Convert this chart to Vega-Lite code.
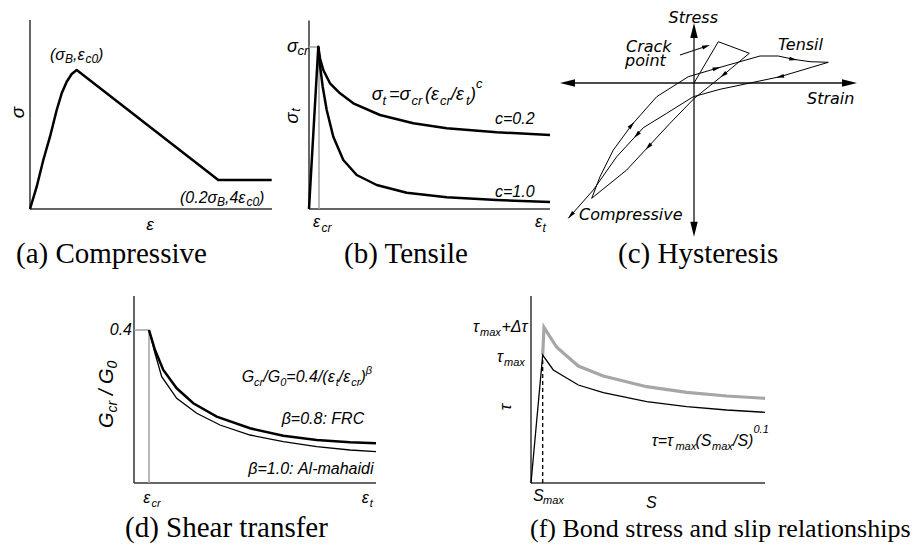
{
"$schema": "https://vega.github.io/schema/vega-lite/v6.json",
"padding": 0,
"background": "white",
"config": {"view": {"stroke": null}},
"spacing": 0,
"vconcat": [
{
"spacing": 0,
"bounds": "flush",
"hconcat": [
{
"width": 280, "height": 270,
"encoding": {
 "x": {"field": "x", "type": "quantitative", "scale": {"domain": [-30, 250], "nice": false, "zero": false}, "axis": null},
 "y": {"field": "y", "type": "quantitative", "scale": {"domain": [-61, 209], "nice": false, "zero": false}, "axis": null}
},
"layer": [
 {"data": {"values": [{"x": 0, "y": 0, "x2": 0, "y2": 189}, {"x": 0, "y": 0, "x2": 242, "y2": 0}]},
  "mark": {"type": "rule", "color": "#333333", "strokeWidth": 1.5},
  "encoding": {"x2": {"field": "x2"}, "y2": {"field": "y2"}}},
 {"data": {"values": [{"x": 0, "y": 0}, {"x": 6.7, "y": 22.3}, {"x": 13.3, "y": 49}, {"x": 20, "y": 72.3}, {"x": 26.7, "y": 99}, {"x": 31.7, "y": 115.7}, {"x": 36.7, "y": 127.3}, {"x": 41.7, "y": 135}, {"x": 46.7, "y": 139}, {"x": 188.3, "y": 29}, {"x": 241.7, "y": 29}]},
  "mark": {"type": "line", "color": "#000000", "strokeWidth": 2.5, "strokeJoin": "round"}},
 {"data": {"values": [{"x": 20, "y": 149, "t": "(σ"}, {"x": 43, "y": 149, "t": ",ε"}, {"x": 68, "y": 149, "t": ")"}, {"x": 150, "y": 6, "t": "(0.2σ"}, {"x": 195, "y": 6, "t": ",4ε"}, {"x": 229, "y": 6, "t": ")"}]},
  "mark": {"type": "text", "align": "left", "baseline": "alphabetic", "font": "Liberation Sans", "fontStyle": "italic", "fontSize": 16, "color": "#000000"},
  "encoding": {"text": {"field": "t"}}},
 {"data": {"values": [{"x": 35, "y": 146, "t": "B"}, {"x": 55.5, "y": 146, "t": "c0"}, {"x": 187, "y": 3, "t": "B"}, {"x": 216.5, "y": 3, "t": "c0"}]},
  "mark": {"type": "text", "align": "left", "baseline": "alphabetic", "font": "Liberation Sans", "fontStyle": "italic", "fontSize": 12, "color": "#000000"},
  "encoding": {"text": {"field": "t"}}},
 {"data": {"values": [{"x": -12.5, "y": 96.5, "t": "σ"}]},
  "mark": {"type": "text", "align": "center", "baseline": "middle", "angle": -90, "font": "Liberation Sans", "fontStyle": "italic", "fontSize": 19, "color": "#000000"},
  "encoding": {"text": {"field": "t"}}},
 {"data": {"values": [{"x": 120, "y": -21, "t": "ε"}]},
  "mark": {"type": "text", "align": "center", "baseline": "alphabetic", "font": "Liberation Sans", "fontStyle": "italic", "fontSize": 17, "color": "#000000"},
  "encoding": {"text": {"field": "t"}}},
 {"data": {"values": [{"x": -14, "y": -54, "t": "(a) Compressive"}]},
  "mark": {"type": "text", "align": "left", "baseline": "alphabetic", "font": "Liberation Serif, DejaVu Serif, serif", "fontSize": 29, "color": "#000000"},
  "encoding": {"text": {"field": "t"}}}
]
},
{
"width": 265, "height": 270,
"encoding": {
 "x": {"field": "x", "type": "quantitative", "scale": {"domain": [-29, 236], "nice": false, "zero": false}, "axis": null},
 "y": {"field": "y", "type": "quantitative", "scale": {"domain": [-61, 209], "nice": false, "zero": false}, "axis": null}
},
"layer": [
 {"data": {"values": [{"x": 0, "y": 0, "x2": 0, "y2": 188.5}, {"x": 0, "y": 0, "x2": 241, "y2": 0}]},
  "mark": {"type": "rule", "color": "#333333", "strokeWidth": 1.5},
  "encoding": {"x2": {"field": "x2"}, "y2": {"field": "y2"}}},
 {"data": {"values": [{"x": 10, "y": 0, "x2": 10, "y2": 162}, {"x": 0, "y": 162, "x2": 9.3, "y2": 162}]},
  "mark": {"type": "rule", "color": "#a0a0a0", "strokeWidth": 1.5},
  "encoding": {"x2": {"field": "x2"}, "y2": {"field": "y2"}}},
 {"data": {"values": [
   {"s": "c02", "x": 0, "y": 0}, {"s": "c02", "x": 9.3, "y": 162.3}, {"s": "c02", "x": 11, "y": 150.7}, {"s": "c02", "x": 14.3, "y": 139}, {"s": "c02", "x": 21, "y": 125.7}, {"s": "c02", "x": 31, "y": 115.7}, {"s": "c02", "x": 44.3, "y": 105.7}, {"s": "c02", "x": 71, "y": 94}, {"s": "c02", "x": 104.3, "y": 85.7}, {"s": "c02", "x": 137.7, "y": 80.7}, {"s": "c02", "x": 187.7, "y": 76.7}, {"s": "c02", "x": 241, "y": 74},
   {"s": "c10", "x": 9.3, "y": 162.3}, {"s": "c10", "x": 10.3, "y": 149}, {"s": "c10", "x": 13.7, "y": 122.3}, {"s": "c10", "x": 17.7, "y": 99}, {"s": "c10", "x": 24.3, "y": 72.3}, {"s": "c10", "x": 34.3, "y": 49}, {"s": "c10", "x": 47.7, "y": 34}, {"s": "c10", "x": 67.7, "y": 24}, {"s": "c10", "x": 97.7, "y": 16.3}, {"s": "c10", "x": 137.7, "y": 11.7}, {"s": "c10", "x": 187.7, "y": 9}, {"s": "c10", "x": 241, "y": 7}
  ]},
  "mark": {"type": "line", "color": "#000000", "strokeWidth": 2.5, "strokeJoin": "round"},
  "encoding": {"detail": {"field": "s"}}},
 {"data": {"values": [{"x": 62.7, "y": 109, "t": "σ"}, {"x": 80, "y": 109, "t": "=σ"}, {"x": 116, "y": 109, "t": "(ε"}, {"x": 142, "y": 109, "t": "/ε"}, {"x": 161, "y": 109, "t": ")"}, {"x": -22, "y": 157.3, "t": "σ"}]},
  "mark": {"type": "text", "align": "left", "baseline": "alphabetic", "font": "Liberation Sans", "fontStyle": "italic", "fontSize": 18, "color": "#000000"},
  "encoding": {"text": {"field": "t"}}},
 {"data": {"values": [{"x": 73.5, "y": 104, "t": "t"}, {"x": 102.5, "y": 104, "t": "cr"}, {"x": 131, "y": 104, "t": "cr"}, {"x": 157, "y": 104, "t": "t"}, {"x": 167, "y": 121, "t": "c"}, {"x": -11.5, "y": 154, "t": "cr"}]},
  "mark": {"type": "text", "align": "left", "baseline": "alphabetic", "font": "Liberation Sans", "fontStyle": "italic", "fontSize": 13, "color": "#000000"},
  "encoding": {"text": {"field": "t"}}},
 {"data": {"values": [{"x": -16, "y": 91, "t": "σ"}]},
  "mark": {"type": "text", "align": "center", "baseline": "middle", "angle": -90, "font": "Liberation Sans", "fontStyle": "italic", "fontSize": 18, "color": "#000000"},
  "encoding": {"text": {"field": "t"}}},
 {"data": {"values": [{"x": -13, "y": 99, "t": "t"}]},
  "mark": {"type": "text", "align": "center", "baseline": "middle", "angle": -90, "font": "Liberation Sans", "fontStyle": "italic", "fontSize": 13, "color": "#000000"},
  "encoding": {"text": {"field": "t"}}},
 {"data": {"values": [{"x": 186, "y": 85, "t": "c=0.2"}, {"x": 186, "y": 12, "t": "c=1.0"}, {"x": 4, "y": -18, "t": "ε"}, {"x": 226, "y": -18, "t": "ε"}]},
  "mark": {"type": "text", "align": "left", "baseline": "alphabetic", "font": "Liberation Sans", "fontStyle": "italic", "fontSize": 16, "color": "#000000"},
  "encoding": {"text": {"field": "t"}}},
 {"data": {"values": [{"x": 12.5, "y": -23, "t": "cr"}, {"x": 233.5, "y": -23, "t": "t"}]},
  "mark": {"type": "text", "align": "left", "baseline": "alphabetic", "font": "Liberation Sans", "fontStyle": "italic", "fontSize": 12, "color": "#000000"},
  "encoding": {"text": {"field": "t"}}},
 {"data": {"values": [{"x": 35, "y": -54, "t": "(b) Tensile"}]},
  "mark": {"type": "text", "align": "left", "baseline": "alphabetic", "font": "Liberation Serif, DejaVu Serif, serif", "fontSize": 29, "color": "#000000"},
  "encoding": {"text": {"field": "t"}}}
]
},
{
"width": 370, "height": 270,
"encoding": {
 "x": {"field": "x", "type": "quantitative", "scale": {"domain": [-149, 221], "nice": false, "zero": false}, "axis": null},
 "y": {"field": "y", "type": "quantitative", "scale": {"domain": [-187, 83], "nice": false, "zero": false}, "axis": null}
},
"layer": [
 {"data": {"values": [{"x": -127, "y": 0, "x2": 156, "y2": 0}, {"x": 0, "y": 53, "x2": 0, "y2": -147}, {"x": -14, "y": 28, "x2": 13, "y2": 37}]},
  "mark": {"type": "rule", "color": "#111111", "strokeWidth": 1.3},
  "encoding": {"x2": {"field": "x2"}, "y2": {"field": "y2"}}},
 {"data": {"values": [
   {"i": 0, "x": 0, "y": 0}, {"i": 1, "x": 24.3, "y": 41.3}, {"i": 2, "x": 55.3, "y": 29.7}, {"i": 3, "x": 29.3, "y": 8}, {"i": 4, "x": 0.3, "y": -15.3}, {"i": 5, "x": -24, "y": -40.3}, {"i": 6, "x": -45.7, "y": -63.7}, {"i": 7, "x": -67.3, "y": -87}, {"i": 8, "x": -102.3, "y": -115.3},
   {"i": 9, "x": -94, "y": -93.7}, {"i": 10, "x": -80.7, "y": -67}, {"i": 11, "x": -62.3, "y": -42}, {"i": 12, "x": -37.3, "y": -13.7}, {"i": 13, "x": -5.7, "y": 6.3}, {"i": 14, "x": 22.7, "y": 14.7}, {"i": 15, "x": 66, "y": 27}, {"i": 16, "x": 84.3, "y": 27}, {"i": 17, "x": 99.3, "y": 23.7}, {"i": 18, "x": 116, "y": 21.3}, {"i": 19, "x": 134.3, "y": 20.7},
   {"i": 20, "x": 86, "y": 6.3}, {"i": 21, "x": 26, "y": -6.3}, {"i": 22, "x": -0.7, "y": -13.7}, {"i": 23, "x": -27.3, "y": -30.3}, {"i": 24, "x": -50.7, "y": -44.7}, {"i": 25, "x": -57.3, "y": -52}, {"i": 26, "x": -77.3, "y": -73.7}, {"i": 27, "x": -100.7, "y": -107}, {"i": 28, "x": -125.7, "y": -135.3}
  ]},
  "mark": {"type": "line", "color": "#000000", "strokeWidth": 1},
  "encoding": {"order": {"field": "i", "type": "quantitative"}}},
 {"data": {"values": [{"x": 155.5, "y": 0, "a": 0}, {"x": -126.5, "y": 0, "a": 180}, {"x": 0, "y": 52.5, "a": 270}, {"x": 0, "y": -146.2, "a": 90}]},
  "mark": {"type": "point", "shape": "M-1,-0.5L1,0L-1,0.5Z", "filled": true, "color": "#000000", "opacity": 1, "size": 225},
  "encoding": {"angle": {"field": "a", "type": "quantitative", "scale": null}}},
 {"data": {"values": [{"x": -62.3, "y": -42, "a": -48.6}, {"x": 22.7, "y": 14.7, "a": -16}, {"x": 99.3, "y": 23.7, "a": 10}, {"x": 86, "y": 6.3, "a": 168}, {"x": -57.3, "y": -52, "a": 133}, {"x": 29.3, "y": 8, "a": 141}, {"x": -45.7, "y": -63.7, "a": 133}, {"x": -123.1, "y": -132.3, "a": 131}, {"x": 12.2, "y": 36.7, "a": -18.4}]},
  "mark": {"type": "point", "shape": "M-1,-0.5L1,0L-1,0.5Z", "filled": true, "color": "#000000", "opacity": 1, "size": 64},
  "encoding": {"angle": {"field": "a", "type": "quantitative", "scale": null}}},
 {"data": {"values": [{"x": -25.5, "y": 60, "t": "Stress"}, {"x": 113, "y": -21, "t": "Strain"}, {"x": -68, "y": 31, "t": "Crack"}, {"x": -69, "y": 17.5, "t": "point"}, {"x": 84, "y": 33, "t": "Tensil"}, {"x": -115, "y": -137, "t": "Compressive"}]},
  "mark": {"type": "text", "align": "left", "baseline": "alphabetic", "font": "DejaVu Sans", "fontStyle": "italic", "fontSize": 16, "color": "#000000"},
  "encoding": {"text": {"field": "t"}}},
 {"data": {"values": [{"x": -76, "y": -180, "t": "(c) Hysteresis"}]},
  "mark": {"type": "text", "align": "left", "baseline": "alphabetic", "font": "Liberation Serif, DejaVu Serif, serif", "fontSize": 29, "color": "#000000"},
  "encoding": {"text": {"field": "t"}}}
]
}
]
},
{
"spacing": 0,
"bounds": "flush",
"hconcat": [
{
"width": 470, "height": 281,
"encoding": {
 "x": {"field": "x", "type": "quantitative", "scale": {"domain": [-134, 336], "nice": false, "zero": false}, "axis": null},
 "y": {"field": "y", "type": "quantitative", "scale": {"domain": [-68, 213], "nice": false, "zero": false}, "axis": null}
},
"layer": [
 {"data": {"values": [{"x": 0, "y": 0, "x2": 0, "y2": 187}, {"x": 0, "y": 0, "x2": 242, "y2": 0}]},
  "mark": {"type": "rule", "color": "#333333", "strokeWidth": 1.5},
  "encoding": {"x2": {"field": "x2"}, "y2": {"field": "y2"}}},
 {"data": {"values": [{"x": 15, "y": 0, "x2": 15, "y2": 153}, {"x": 0, "y": 153, "x2": 15, "y2": 153}]},
  "mark": {"type": "rule", "color": "#a0a0a0", "strokeWidth": 1.5},
  "encoding": {"x2": {"field": "x2"}, "y2": {"field": "y2"}}},
 {"data": {"values": [{"x": 15, "y": 153}, {"x": 21, "y": 129.7}, {"x": 27.7, "y": 106.3}, {"x": 42.7, "y": 84.7}, {"x": 62.7, "y": 69.7}, {"x": 86, "y": 58}, {"x": 116, "y": 48}, {"x": 149.3, "y": 41.3}, {"x": 182.7, "y": 36.3}, {"x": 216, "y": 33}, {"x": 242, "y": 31.3}]},
  "mark": {"type": "line", "color": "#000000", "strokeWidth": 1.3}},
 {"data": {"values": [{"x": 15, "y": 153}, {"x": 21, "y": 133}, {"x": 29.3, "y": 113}, {"x": 42.7, "y": 94.7}, {"x": 59.3, "y": 79.7}, {"x": 82.7, "y": 66.3}, {"x": 116, "y": 54.7}, {"x": 149.3, "y": 47.3}, {"x": 182.7, "y": 43}, {"x": 216, "y": 40.7}, {"x": 242, "y": 39.7}]},
  "mark": {"type": "line", "color": "#000000", "strokeWidth": 2.5}},
 {"data": {"values": [{"x": 107.7, "y": 101, "t": "G"}, {"x": 129.3, "y": 101, "t": "/G"}, {"x": 152.3, "y": 101, "t": "=0.4/(ε"}, {"x": 204.8, "y": 101, "t": "/ε"}, {"x": 226.4, "y": 101, "t": ")"}, {"x": 147.7, "y": 59, "t": "β=0.8: FRC"}, {"x": 114.3, "y": 9, "t": "β=1.0: Al-mahaidi"}, {"x": 9.3, "y": -20, "t": "ε"}, {"x": 227.7, "y": -20, "t": "ε"}]},
  "mark": {"type": "text", "align": "left", "baseline": "alphabetic", "font": "Liberation Sans", "fontStyle": "italic", "fontSize": 16, "color": "#000000"},
  "encoding": {"text": {"field": "t"}}},
 {"data": {"values": [{"x": 120.1, "y": 97, "t": "cr"}, {"x": 146.2, "y": 97, "t": "0"}, {"x": 201.7, "y": 97, "t": "t"}, {"x": 217.2, "y": 97, "t": "cr"}, {"x": 231.7, "y": 109, "t": "β"}, {"x": 17.5, "y": -24, "t": "cr"}, {"x": 235.7, "y": -24, "t": "t"}]},
  "mark": {"type": "text", "align": "left", "baseline": "alphabetic", "font": "Liberation Sans", "fontStyle": "italic", "fontSize": 11, "color": "#000000"},
  "encoding": {"text": {"field": "t"}}},
 {"data": {"values": [{"x": -2, "y": 148, "t": "0.4"}]},
  "mark": {"type": "text", "align": "right", "baseline": "alphabetic", "font": "Liberation Sans", "fontStyle": "italic", "fontSize": 16, "color": "#000000"},
  "encoding": {"text": {"field": "t"}}},
 {"data": {"values": [{"x": -21, "y": 55, "t": "G"}, {"x": -21, "y": 87.9, "t": "/ G"}]},
  "mark": {"type": "text", "align": "left", "baseline": "alphabetic", "angle": -90, "font": "Liberation Sans", "fontStyle": "italic", "fontSize": 20, "color": "#000000"},
  "encoding": {"text": {"field": "t"}}},
 {"data": {"values": [{"x": -17, "y": 70.6, "t": "cr"}, {"x": -17, "y": 114.5, "t": "0"}]},
  "mark": {"type": "text", "align": "left", "baseline": "alphabetic", "angle": -90, "font": "Liberation Sans", "fontStyle": "italic", "fontSize": 14, "color": "#000000"},
  "encoding": {"text": {"field": "t"}}},
 {"data": {"values": [{"x": -9, "y": -54, "t": "(d) Shear transfer"}]},
  "mark": {"type": "text", "align": "left", "baseline": "alphabetic", "font": "Liberation Serif, DejaVu Serif, serif", "fontSize": 29, "color": "#000000"},
  "encoding": {"text": {"field": "t"}}}
]
},
{
"width": 445, "height": 281,
"encoding": {
 "x": {"field": "x", "type": "quantitative", "scale": {"domain": [-61, 384], "nice": false, "zero": false}, "axis": null},
 "y": {"field": "y", "type": "quantitative", "scale": {"domain": [-68, 213], "nice": false, "zero": false}, "axis": null}
},
"layer": [
 {"data": {"values": [{"x": 0, "y": 0, "x2": 0, "y2": 187}, {"x": 0, "y": 0, "x2": 234, "y2": 0}]},
  "mark": {"type": "rule", "color": "#333333", "strokeWidth": 1.5},
  "encoding": {"x2": {"field": "x2"}, "y2": {"field": "y2"}}},
 {"data": {"values": [{"x": 11.7, "y": 0, "x2": 11.7, "y2": 128}]},
  "mark": {"type": "rule", "color": "#000000", "strokeWidth": 1.3, "strokeDash": [4, 3]},
  "encoding": {"x2": {"field": "x2"}, "y2": {"field": "y2"}}},
 {"data": {"values": [{"x": 11.7, "y": 128}, {"x": 13, "y": 155.7}, {"x": 25.7, "y": 135.7}, {"x": 47.3, "y": 117}, {"x": 72.3, "y": 107}, {"x": 115.7, "y": 96.3}, {"x": 155.7, "y": 90.7}, {"x": 195.7, "y": 87}, {"x": 234, "y": 84.7}]},
  "mark": {"type": "line", "color": "#a6a6a6", "strokeWidth": 3.2}},
 {"data": {"values": [{"x": 0, "y": 0}, {"x": 11.7, "y": 128}, {"x": 22.3, "y": 113}, {"x": 47.3, "y": 98}, {"x": 72.3, "y": 90.3}, {"x": 115.7, "y": 81.3}, {"x": 155.7, "y": 76.3}, {"x": 195.7, "y": 73}, {"x": 234, "y": 70.7}]},
  "mark": {"type": "line", "color": "#000000", "strokeWidth": 1.3}},
 {"data": {"values": [{"x": -58, "y": 151, "t": "τ"}, {"x": -29.5, "y": 151, "t": "+Δτ"}, {"x": -34, "y": 121, "t": "τ"}, {"x": 120.7, "y": 37.3, "t": "τ=τ"}, {"x": 164.5, "y": 37.3, "t": "(S"}, {"x": 202, "y": 37.3, "t": "/S)"}, {"x": 2, "y": -18, "t": "S"}, {"x": 115, "y": -25, "t": "S"}]},
  "mark": {"type": "text", "align": "left", "baseline": "alphabetic", "font": "Liberation Sans", "fontStyle": "italic", "fontSize": 16, "color": "#000000"},
  "encoding": {"text": {"field": "t"}}},
 {"data": {"values": [{"x": -51, "y": 147, "t": "max"}, {"x": -27, "y": 117, "t": "max"}, {"x": 144.4, "y": 33, "t": "max"}, {"x": 181, "y": 33, "t": "max"}, {"x": 222.5, "y": 50, "t": "0.1"}, {"x": 12, "y": -21, "t": "max"}]},
  "mark": {"type": "text", "align": "left", "baseline": "alphabetic", "font": "Liberation Sans", "fontStyle": "italic", "fontSize": 11, "color": "#000000"},
  "encoding": {"text": {"field": "t"}}},
 {"data": {"values": [{"x": -25, "y": 76, "t": "τ"}]},
  "mark": {"type": "text", "align": "center", "baseline": "middle", "angle": -90, "font": "Liberation Sans", "fontStyle": "italic", "fontSize": 17, "color": "#000000"},
  "encoding": {"text": {"field": "t"}}},
 {"data": {"values": [{"x": -1, "y": -54, "t": "(f) Bond stress and slip relationships"}]},
  "mark": {"type": "text", "align": "left", "baseline": "alphabetic", "font": "Liberation Serif, DejaVu Serif, serif", "fontSize": 26, "color": "#000000"},
  "encoding": {"text": {"field": "t"}}}
]
}
]
}
]
}
